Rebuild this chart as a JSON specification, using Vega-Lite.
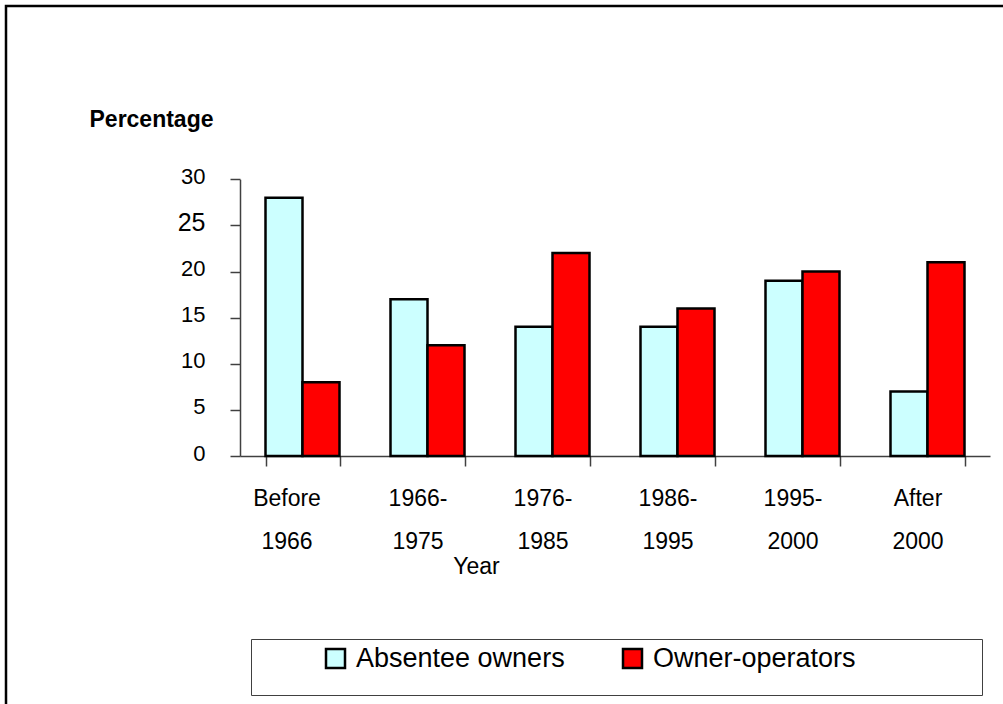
{
  "$schema": "https://vega.github.io/schema/vega-lite/v6.json",
  "width": 997,
  "height": 698,
  "autosize": {"type": "none"},
  "padding": {"left": 6, "top": 6, "right": 0, "bottom": 0},
  "background": "white",
  "config": {
    "font": "Liberation Sans",
    "view": {"stroke": "#000000", "strokeWidth": 2.5, "strokeDash": [997, 1695, 698]},
    "axis": {"grid": false, "domainColor": "#404040", "tickColor": "#404040", "labelColor": "#000000", "titleColor": "#000000", "domainWidth": 1.5, "tickWidth": 1.5}
  },
  "data": {
    "values": [
      {"year": "Before 1966", "owner": "Absentee owners", "pct": 28},
      {"year": "Before 1966", "owner": "Owner-operators", "pct": 8},
      {"year": "1966-1975", "owner": "Absentee owners", "pct": 17},
      {"year": "1966-1975", "owner": "Owner-operators", "pct": 12},
      {"year": "1976-1985", "owner": "Absentee owners", "pct": 14},
      {"year": "1976-1985", "owner": "Owner-operators", "pct": 22},
      {"year": "1986-1995", "owner": "Absentee owners", "pct": 14},
      {"year": "1986-1995", "owner": "Owner-operators", "pct": 16},
      {"year": "1995-2000", "owner": "Absentee owners", "pct": 19},
      {"year": "1995-2000", "owner": "Owner-operators", "pct": 20},
      {"year": "After 2000", "owner": "Absentee owners", "pct": 7},
      {"year": "After 2000", "owner": "Owner-operators", "pct": 21}
    ]
  },
  "mark": {"type": "bar", "stroke": "#000000", "strokeWidth": 2.5},
  "encoding": {
    "x": {
      "field": "year",
      "type": "nominal",
      "sort": ["Before 1966", "1966-1975", "1976-1985", "1986-1995", "1995-2000", "After 2000"],
      "scale": {"range": [234, 984], "paddingInner": 0.408, "paddingOuter": 0.204},
      "axis": {
        "title": "Year",
        "orient": "bottom",
        "offset": -248,
        "tickBand": "extent",
        "tickSize": 10,
        "labelAngle": 0,
        "labelAlign": "center",
        "labelFontSize": 23,
        "labelLineHeight": 43,
        "labelBaseline": "alphabetic",
        "labelPadding": 39,
        "labelOffset": {"condition": {"test": "datum.value == 'Before 1966'", "value": -16}, "value": -10},
        "labelOverlap": false,
        "labelBound": false,
        "labelLimit": 300,
        "labelExpr": "indexof(datum.label, '-') > 0 ? [slice(datum.label, 0, 5), slice(datum.label, 5)] : split(datum.label, ' ')",
        "titleFontSize": 23,
        "titleFontWeight": "normal",
        "titleX": 470,
        "titleY": 117,
        "titleAlign": "center",
        "titleBaseline": "alphabetic"
      }
    },
    "xOffset": {
      "field": "owner",
      "type": "nominal",
      "sort": ["Absentee owners", "Owner-operators"],
      "scale": {"paddingInner": 0, "paddingOuter": 0}
    },
    "y": {
      "field": "pct",
      "type": "quantitative",
      "scale": {"domain": [0, 30], "range": [450, 173.3], "nice": false, "zero": true},
      "axis": {
        "title": "Percentage",
        "offset": -234,
        "values": [0, 5, 10, 15, 20, 25, 30],
        "tickSize": 10,
        "labelPadding": 25,
        "labelFontSize": {"condition": {"test": "datum.value == 25", "value": 25}, "value": 22},
        "labelBaseline": "middle",
        "labelOffset": -3,
        "titleAngle": 0,
        "titleX": -151,
        "titleY": 120,
        "titleAlign": "left",
        "titleBaseline": "alphabetic",
        "titleFontSize": 23,
        "titleFontWeight": "bold"
      }
    },
    "color": {
      "field": "owner",
      "type": "nominal",
      "scale": {"domain": ["Absentee owners", "Owner-operators"], "range": ["#CCFFFF", "#FF0000"]},
      "legend": {
        "orient": "none",
        "legendX": 245,
        "legendY": 633,
        "direction": "horizontal",
        "title": ["\u00a0", "\u00a0"],
        "titleOrient": "left",
        "titlePadding": 65,
        "titleFontSize": 27,
        "titleLineHeight": 34,
        "padding": 6,
        "strokeColor": "#404040",
        "fillColor": "white",
        "symbolType": "square",
        "symbolSize": 361,
        "symbolStrokeColor": "#000000",
        "symbolStrokeWidth": 2.5,
        "symbolOpacity": 1,
        "labelFontSize": 27,
        "labelOffset": 7,
        "labelLimit": 600,
        "columnPadding": 53,
        "labelExpr": "indexof(datum.label, 'operators') > 0 ? datum.label + '\u2800\u2800\u2800\u2800\u2800\u2800' : datum.label"
      }
    }
  }
}
